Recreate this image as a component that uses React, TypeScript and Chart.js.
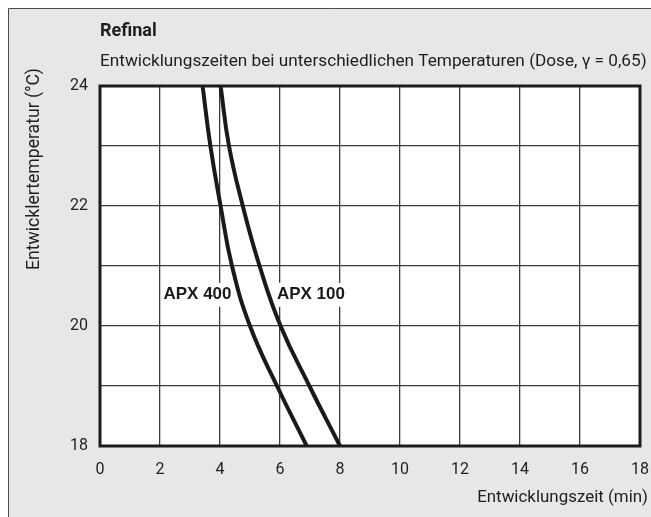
import React, { useEffect, useRef } from "react";
import { Chart, registerables } from "chart.js";

Chart.register(...registerables);

// ---- data ----
const temperatures = [18, 19, 20, 21, 22, 23, 24];
const apx400Times = [6.89, 5.9, 5.0, 4.4, 4.02, 3.68, 3.42];
const apx100Times = [8.0, 6.98, 6.02, 5.32, 4.76, 4.3, 4.02];
const seriesNames = ["APX 400", "APX 100"];
const labelTimes = [3.25, 7.03];
const labelTemps = [20.52, 20.52];
const yTickLabels = [18, 20, 22, 24];

const titleText = "Refinal";
const subtitleText =
  "Entwicklungszeiten bei unterschiedlichen Temperaturen (Dose, \u03B3 = 0,65)";
const yTitleText = "Entwicklertemperatur (\u00B0C)";
const xTitleText = "Entwicklungszeit (min)";

const FONT = "Roboto, 'Liberation Sans', sans-serif";
const BOLD_FONT = "'Liberation Sans', Arial, sans-serif";

function fitSize(ctx: CanvasRenderingContext2D, text: string, weight: string, family: string, target: number) {
  ctx.font = `${weight} 100px ${family}`;
  const w = ctx.measureText(text).width;
  return (100 * target) / w;
}

const decorPlugin = {
  id: "decor",
  beforeDraw(chart: any) {
    const { ctx, width, height, chartArea } = chart;
    ctx.save();
    ctx.fillStyle = "#ffffff";
    ctx.fillRect(0, 0, width, height);
    ctx.fillStyle = "#e6e7e6";
    ctx.fillRect(9, 9, width - 9, height - 9);
    ctx.strokeStyle = "#4a4a4a";
    ctx.lineWidth = 1;
    ctx.beginPath();
    ctx.moveTo(8.5, height);
    ctx.lineTo(8.5, 8.5);
    ctx.lineTo(width, 8.5);
    ctx.stroke();
    ctx.fillStyle = "#ffffff";
    ctx.fillRect(chartArea.left, chartArea.top, chartArea.right - chartArea.left, chartArea.bottom - chartArea.top);
    ctx.restore();
  },
  afterDatasetsDraw(chart: any) {
    const { ctx, chartArea, scales } = chart;
    ctx.save();
    // series labels with white boxes
    seriesNames.forEach((name, i) => {
      const cx = scales.x.getPixelForValue(labelTimes[i]);
      const cy = scales.y.getPixelForValue(labelTemps[i]);
      const size = fitSize(ctx, name, "bold", BOLD_FONT, 68);
      ctx.font = `bold ${size}px ${BOLD_FONT}`;
      const w = ctx.measureText(name).width;
      ctx.fillStyle = "#ffffff";
      ctx.fillRect(cx - w / 2 - 2, cy - 12, w + 4, 24);
      ctx.fillStyle = "#1a1a1a";
      ctx.textAlign = "center";
      ctx.textBaseline = "middle";
      ctx.fillText(name, cx, cy);
    });
    // plot frame
    ctx.strokeStyle = "#1c1c1c";
    ctx.lineWidth = 3;
    ctx.strokeRect(chartArea.left, chartArea.top, chartArea.right - chartArea.left, chartArea.bottom - chartArea.top);

    // texts
    ctx.fillStyle = "#1e1e1e";
    ctx.textBaseline = "middle";
    ctx.textAlign = "left";
    ctx.font = `bold 18px ${FONT}`;
    ctx.fillText(titleText, 100, 31);

    let s = fitSize(ctx, subtitleText, "normal", FONT, 547);
    ctx.font = `${s}px ${FONT}`;
    ctx.fillText(subtitleText, 100, 62);

    s = fitSize(ctx, xTitleText, "normal", FONT, 171);
    ctx.font = `${s}px ${FONT}`;
    ctx.textAlign = "right";
    ctx.fillText(xTitleText, 648, 498);

    s = fitSize(ctx, yTitleText, "normal", FONT, 202);
    ctx.font = `${s}px ${FONT}`;
    ctx.translate(35, 169);
    ctx.rotate(-Math.PI / 2);
    ctx.textAlign = "center";
    ctx.fillText(yTitleText, 0, 0);
    ctx.restore();
  },
};

export default function App() {
  const ref = useRef<HTMLCanvasElement | null>(null);
  useEffect(() => {
    if (!ref.current) return;
    const lineStyle = {
      borderColor: "#1a1a1a",
      borderWidth: 4,
      pointRadius: 0,
      tension: 0.45,
      fill: false,
    };
    const chart = new Chart(ref.current, {
      type: "line",
      data: {
        datasets: [
          { label: seriesNames[0], data: apx400Times.map((t, i) => ({ x: t, y: temperatures[i] })), ...lineStyle },
          { label: seriesNames[1], data: apx100Times.map((t, i) => ({ x: t, y: temperatures[i] })), ...lineStyle },
        ],
      },
      options: {
        indexAxis: "y",
        responsive: false,
        animation: false,
        layout: { padding: { top: 86, right: 11, left: 0, bottom: 0 } },
        plugins: { legend: { display: false }, tooltip: { enabled: false }, title: { display: false } },
        scales: {
          x: {
            type: "linear",
            position: "bottom",
            min: 0,
            max: 18,
            border: { display: false },
            grid: { color: "#3c3c3c", lineWidth: 1.3, drawTicks: false },
            ticks: { stepSize: 2, padding: 14, color: "#222", font: { family: FONT, size: 16 } },
            afterFit: (scale: any) => {
              scale.height = 71;
              scale.paddingLeft = 0;
              scale.paddingRight = 0;
            },
          },
          y: {
            type: "linear",
            position: "left",
            min: 18,
            max: 24,
            border: { display: false },
            grid: { color: "#3c3c3c", lineWidth: 1.3, drawTicks: false },
            ticks: {
              stepSize: 1,
              padding: 12,
              color: "#222",
              font: { family: FONT, size: 16 },
              callback: (v: any) => (yTickLabels.includes(Number(v)) ? String(v) : ""),
            },
            afterFit: (scale: any) => {
              scale.width = 100;
              scale.paddingTop = 0;
              scale.paddingBottom = 0;
            },
          },
        },
      },
      plugins: [decorPlugin],
    } as any);
    return () => chart.destroy();
  }, []);
  return (
    <div style={{ position: "absolute", left: 0, top: 0, width: 651, height: 517 }}>
      <canvas ref={ref} width={651} height={517} style={{ display: "block" }} />
    </div>
  );
}
